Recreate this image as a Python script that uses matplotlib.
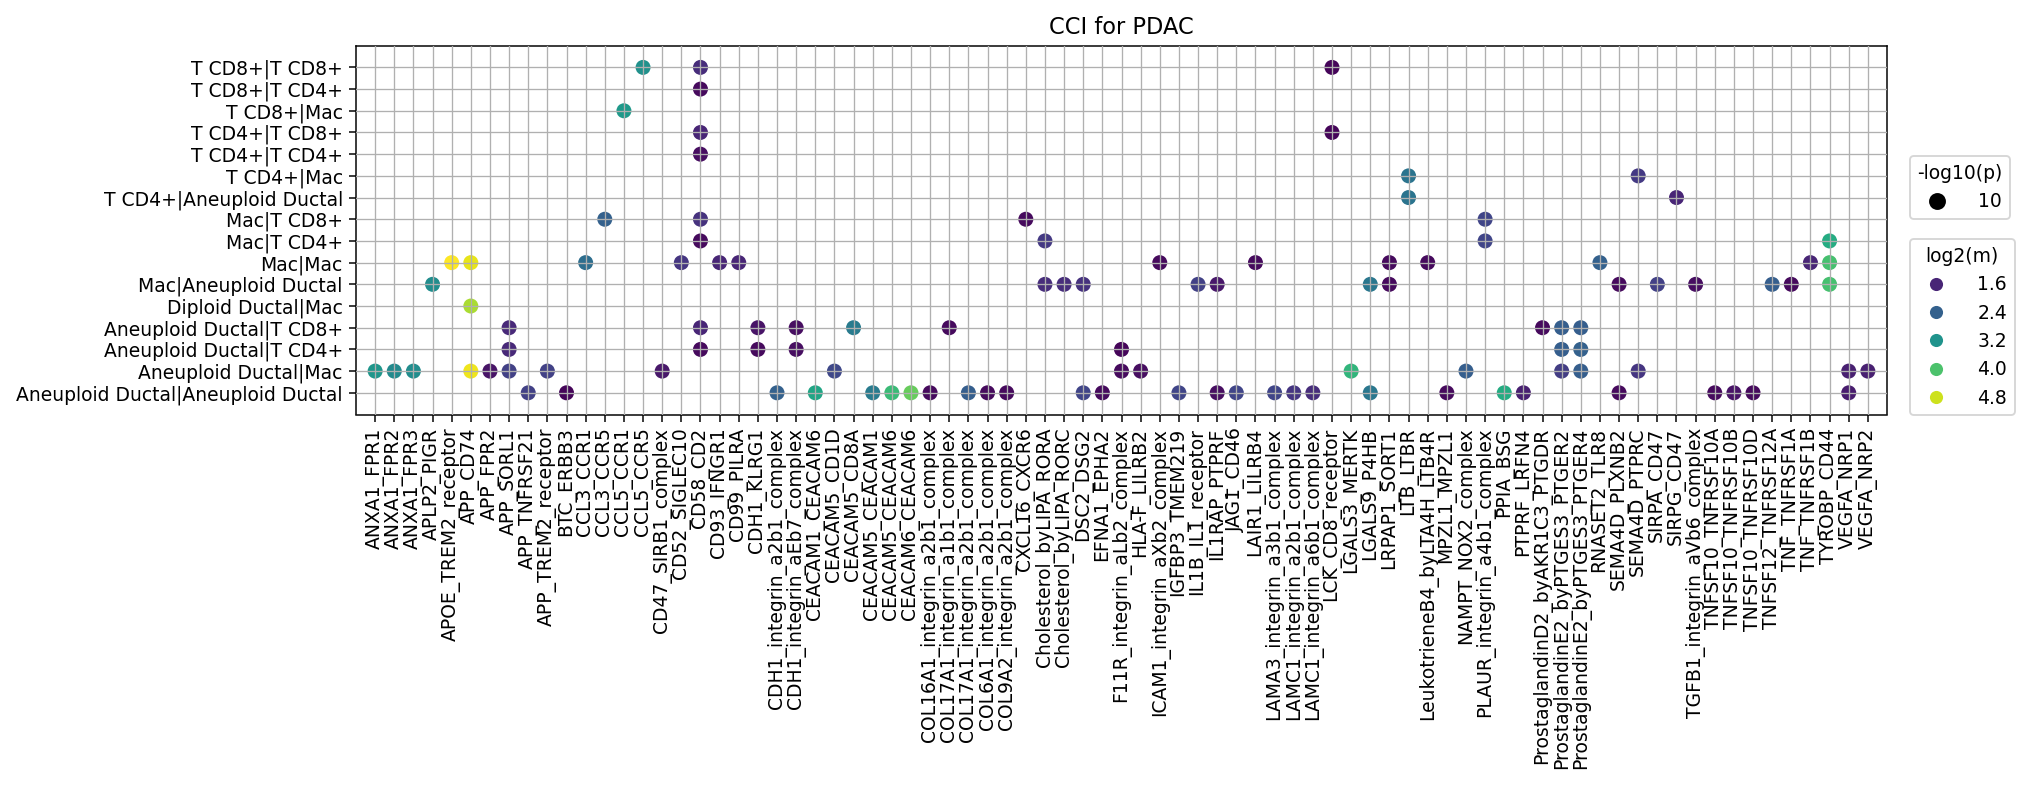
import matplotlib
matplotlib.use("Agg")
import matplotlib.pyplot as plt
from matplotlib.lines import Line2D
import numpy as np

# sender|receiver cell type pairs (top to bottom)
pairs = ["T CD8+|T CD8+", "T CD8+|T CD4+", "T CD8+|Mac", "T CD4+|T CD8+",
         "T CD4+|T CD4+", "T CD4+|Mac", "T CD4+|Aneuploid Ductal",
         "Mac|T CD8+", "Mac|T CD4+", "Mac|Mac", "Mac|Aneuploid Ductal",
         "Diploid Ductal|Mac", "Aneuploid Ductal|T CD8+",
         "Aneuploid Ductal|T CD4+", "Aneuploid Ductal|Mac",
         "Aneuploid Ductal|Aneuploid Ductal"]

interactions = [
    "ANXA1_FPR1", "ANXA1_FPR2", "ANXA1_FPR3", "APLP2_PIGR", "APOE_TREM2_receptor",
    "APP_CD74", "APP_FPR2", "APP_SORL1", "APP_TNFRSF21", "APP_TREM2_receptor",
    "BTC_ERBB3", "CCL3_CCR1", "CCL3_CCR5", "CCL5_CCR1", "CCL5_CCR5",
    "CD47_SIRB1_complex", "CD52_SIGLEC10", "CD58_CD2", "CD93_IFNGR1", "CD99_PILRA",
    "CDH1_KLRG1", "CDH1_integrin_a2b1_complex", "CDH1_integrin_aEb7_complex",
    "CEACAM1_CEACAM6", "CEACAM5_CD1D", "CEACAM5_CD8A", "CEACAM5_CEACAM1",
    "CEACAM5_CEACAM6", "CEACAM6_CEACAM6", "COL16A1_integrin_a2b1_complex",
    "COL17A1_integrin_a1b1_complex", "COL17A1_integrin_a2b1_complex",
    "COL6A1_integrin_a2b1_complex", "COL9A2_integrin_a2b1_complex", "CXCL16_CXCR6",
    "Cholesterol_byLIPA_RORA", "Cholesterol_byLIPA_RORC", "DSC2_DSG2", "EFNA1_EPHA2",
    "F11R_integrin_aLb2_complex", "HLA-F_LILRB2", "ICAM1_integrin_aXb2_complex",
    "IGFBP3_TMEM219", "IL1B_IL1_receptor", "IL1RAP_PTPRF", "JAG1_CD46", "LAIR1_LILRB4",
    "LAMA3_integrin_a3b1_complex", "LAMC1_integrin_a2b1_complex",
    "LAMC1_integrin_a6b1_complex", "LCK_CD8_receptor", "LGALS3_MERTK", "LGALS9_P4HB",
    "LRPAP1_SORT1", "LTB_LTBR", "LeukotrieneB4_byLTA4H_LTB4R", "MPZL1_MPZL1",
    "NAMPT_NOX2_complex", "PLAUR_integrin_a4b1_complex", "PPIA_BSG", "PTPRF_LRFN4",
    "ProstaglandinD2_byAKR1C3_PTGDR", "ProstaglandinE2_byPTGES3_PTGER2",
    "ProstaglandinE2_byPTGES3_PTGER4", "RNASET2_TLR8", "SEMA4D_PLXNB2", "SEMA4D_PTPRC",
    "SIRPA_CD47", "SIRPG_CD47", "TGFB1_integrin_aVb6_complex", "TNFSF10_TNFRSF10A",
    "TNFSF10_TNFRSF10B", "TNFSF10_TNFRSF10D", "TNFSF12_TNFRSF12A", "TNF_TNFRSF1A",
    "TNF_TNFRSF1B", "TYROBP_CD44", "VEGFA_NRP1", "VEGFA_NRP2"]

# one entry per significant interaction: row index, column index, log2(mean)
dot_pair = (
    [0, 0, 0] + [1] + [2] + [3, 3] + [4] + [5, 5] + [6, 6] + [7, 7, 7, 7]
    + [8, 8, 8, 8]
    + [9] * 13
    + [10] * 14
    + [11]
    + [12] * 9
    + [13] * 7
    + [14] * 18
    + [15] * 28)
dot_lr = (
    [14, 17, 50] + [17] + [13] + [17, 50] + [17] + [54, 66] + [54, 68]
    + [12, 17, 34, 58]
    + [17, 35, 58, 76]
    + [4, 5, 11, 16, 18, 19, 41, 46, 53, 55, 64, 75, 76]
    + [3, 35, 36, 37, 43, 44, 52, 53, 65, 67, 69, 73, 74, 76]
    + [5]
    + [7, 17, 20, 22, 25, 30, 61, 62, 63]
    + [7, 17, 20, 22, 39, 62, 63]
    + [0, 1, 2, 5, 6, 7, 9, 15, 24, 39, 40, 51, 57, 62, 63, 66, 77, 78]
    + [8, 10, 21, 23, 26, 27, 28, 29, 31, 32, 33, 37, 38, 42, 44, 45, 47, 48, 49,
       52, 56, 59, 60, 65, 70, 71, 72, 77])
dot_log2m = (
    [3.15, 1.7, 1.25] + [1.3] + [3.3] + [1.6, 1.25] + [1.35] + [2.7, 1.85]
    + [2.7, 1.6]
    + [2.4, 1.75, 1.3, 2.0]
    + [1.3, 1.85, 2.0, 3.6]
    + [5.1, 4.95, 2.6, 1.8, 1.6, 1.6, 1.3, 1.3, 1.3, 1.3, 2.4, 1.6, 3.95]
    + [3.1, 1.7, 1.7, 1.75, 1.95, 1.45, 2.75, 1.3, 1.3, 1.95, 1.35, 2.35, 1.3, 3.95]
    + [4.6]
    + [1.65, 1.6, 1.4, 1.35, 2.8, 1.3, 1.3, 2.35, 2.35]
    + [1.65, 1.3, 1.3, 1.35, 1.25, 2.35, 2.4]
    + [3.25, 3.05, 3.1, 5.0, 1.4, 1.95, 1.95, 1.45, 2.05, 1.3, 1.35, 3.75, 2.35,
       1.9, 2.35, 1.8, 1.55, 1.55]
    + [1.95, 1.25, 2.4, 3.5, 2.8, 3.85, 4.2, 1.3, 2.35, 1.3, 1.3, 2.0, 1.3, 2.0,
       1.35, 2.0, 2.0, 1.8, 1.7, 2.75, 1.3, 3.6, 1.55, 1.3, 1.3, 1.4, 1.3, 1.5])
neglog10p = 10  # every hit is capped at the same -log10(p)

hue_ticks = [1.6, 2.4, 3.2, 4.0, 4.8]


def main():
    vmin, vmax = 1.2, 5.1
    cmap = plt.get_cmap("viridis")
    norm = plt.Normalize(vmin, vmax)

    fig = plt.figure(figsize=(2030 / 135, 786 / 135), dpi=135)
    ax = fig.add_axes([356 / 2030, 1 - 414.5 / 786, 1531 / 2030, 368.8 / 786])

    x = np.array(dot_lr)
    y = np.array(dot_pair)
    ax.scatter(x, y, c=dot_log2m, cmap=cmap, norm=norm,
               s=6.4 * neglog10p, linewidths=0, zorder=1)

    ax.set_xticks(range(len(interactions)))
    ax.set_xticklabels(interactions, rotation=90)
    ax.set_yticks(range(len(pairs)))
    ax.set_yticklabels(pairs)
    ax.set_xlim(-1, len(interactions))
    ax.set_ylim(len(pairs), -1)
    ax.set_axisbelow(False)
    ax.grid(True, color="#b0b0b0", linewidth=0.7, zorder=2)
    ax.set_title("CCI for PDAC", fontsize=12)

    size_handles = [Line2D([], [], marker="o", linestyle="", color="black",
                           markersize=8)]
    leg1 = ax.legend(size_handles, [str(neglog10p)], title="-log10(p)",
                     loc="upper left", bbox_to_anchor=(1.015, 0.70),
                     borderaxespad=0, handletextpad=1.2)
    ax.add_artist(leg1)

    hue_handles = [Line2D([], [], marker="o", linestyle="", markeredgewidth=0,
                          color=cmap(norm(v)), markersize=7) for v in hue_ticks]
    ax.legend(hue_handles, ["%.1f" % v for v in hue_ticks], title="log2(m)",
              loc="upper left", bbox_to_anchor=(1.015, 0.475),
              borderaxespad=0, handletextpad=1.2)

    fig.savefig("out.png", dpi=135)


if __name__ == "__main__":
    main()
